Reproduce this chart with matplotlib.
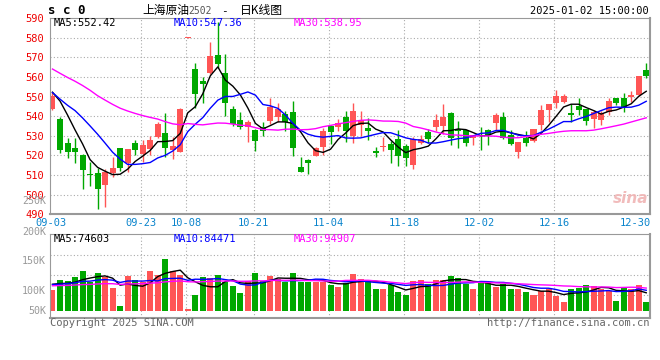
import numpy as np
import pandas as pd
import matplotlib
matplotlib.use("Agg")
import matplotlib.pyplot as plt
import matplotlib.transforms as mtransforms

# ---- data (sc0, 2024-09-03 .. 2025-01-02) ----
dates = ["09-03", "09-04", "09-05", "09-06", "09-09", "09-10", "09-11", "09-12", "09-13",
         "09-18", "09-19", "09-20", "09-23", "09-24", "09-25", "09-26", "09-27", "09-30",
         "10-08", "10-09", "10-10", "10-11", "10-14", "10-15", "10-16", "10-17", "10-18",
         "10-21", "10-22", "10-23", "10-24", "10-25", "10-28", "10-29", "10-30", "10-31",
         "11-01", "11-04", "11-05", "11-06", "11-07", "11-08", "11-11", "11-12", "11-13",
         "11-14", "11-15", "11-18", "11-19", "11-20", "11-21", "11-22", "11-25", "11-26",
         "11-27", "11-28", "11-29", "12-02", "12-03", "12-04", "12-05", "12-06", "12-09",
         "12-10", "12-11", "12-12", "12-13", "12-16", "12-17", "12-18", "12-19", "12-20",
         "12-23", "12-24", "12-25", "12-26", "12-27", "12-30", "12-31", "01-02"]

opens = [543.5, 538.6, 526.4, 523.8, 520.2, 510.4, 511.1, 505.1, 511.1, 523.6,
         516.3, 526.4, 520.6, 523.3, 529.4, 531.4, 522.8, 521.9, 580.0, 563.9,
         557.8, 561.8, 571.2, 561.8, 543.7, 538.1, 534.3, 533.1, 534.5, 537.7,
         539.4, 541.1, 542.0, 514.3, 517.8, 519.9, 524.5, 535.2, 534.7, 539.8,
         530.1, 535.5, 534.0, 522.4, 524.1, 525.8, 528.5, 525.0, 515.3, 526.5,
         532.1, 534.3, 535.2, 541.8, 533.5, 533.0, 528.9, 531.6, 533.1, 536.5,
         539.8, 530.4, 521.9, 529.1, 527.4, 535.5, 543.2, 546.9, 547.4, 541.8,
         545.4, 543.7, 538.4, 538.0, 542.3, 549.1, 549.1, 549.6, 550.8, 563.5]
highs = [552.2, 539.5, 528.7, 528.7, 520.6, 516.8, 513.4, 513.1, 519.0, 524.0,
         523.5, 527.9, 527.9, 529.9, 536.9, 541.5, 529.6, 544.0, 580.3, 566.9,
         560.1, 578.0, 587.8, 571.5, 545.4, 542.0, 538.1, 533.5, 537.2, 549.1,
         546.7, 542.8, 547.9, 519.4, 518.2, 524.5, 533.8, 535.7, 538.6, 542.8,
         546.9, 542.8, 538.9, 524.5, 529.2, 527.5, 533.0, 525.8, 529.6, 530.5,
         533.5, 541.1, 546.2, 542.3, 537.6, 533.0, 530.6, 534.7, 533.5, 541.8,
         542.3, 533.0, 527.0, 532.5, 533.5, 545.7, 546.0, 553.3, 551.1, 546.0,
         549.4, 543.7, 543.2, 542.6, 549.4, 549.1, 552.0, 552.8, 560.5, 566.9]
lows = [543.2, 521.1, 518.9, 516.0, 502.8, 504.6, 492.6, 493.6, 508.8, 511.9,
        511.7, 520.4, 516.8, 520.2, 528.8, 519.4, 518.2, 521.5, 580.0, 544.0,
        546.6, 561.3, 564.4, 540.3, 535.2, 533.5, 526.7, 522.1, 530.1, 536.0,
        536.9, 532.6, 519.9, 511.7, 510.5, 519.5, 520.4, 525.8, 532.6, 526.7,
        526.3, 530.1, 528.0, 519.0, 522.1, 516.0, 514.8, 514.8, 513.1, 526.0,
        526.2, 532.3, 530.9, 525.3, 524.0, 525.0, 525.3, 522.8, 525.5, 532.8,
        528.4, 525.5, 518.9, 524.8, 527.0, 533.1, 537.2, 544.3, 546.6, 537.2,
        540.6, 535.5, 533.8, 535.5, 540.6, 545.7, 542.3, 547.1, 550.3, 559.6]
closes = [550.3, 522.8, 521.6, 521.9, 512.8, 510.2, 503.1, 511.7, 513.4, 513.6,
          523.1, 522.8, 525.3, 527.9, 535.9, 523.6, 525.0, 543.7, 580.3, 551.5,
          556.6, 570.7, 566.4, 546.6, 536.0, 534.3, 537.2, 527.5, 532.6, 544.5,
          543.7, 536.9, 523.6, 511.7, 516.0, 523.8, 532.6, 531.8, 536.4, 532.3,
          542.8, 538.2, 532.6, 521.1, 524.8, 522.8, 519.9, 518.5, 528.5, 528.5,
          528.2, 538.2, 539.4, 529.1, 532.5, 526.5, 530.4, 531.2, 530.6, 540.7,
          529.1, 525.8, 527.0, 526.5, 533.5, 543.2, 546.0, 550.1, 550.5, 540.6,
          543.2, 537.6, 542.3, 541.5, 547.7, 546.6, 544.9, 550.8, 560.5, 560.5]
volumes = [85.7, 126.5, 122.4, 140.1, 163.2, 119.7, 155.0, 137.4, 93.8, 20.4,
           144.2, 126.5, 119.7, 163.2, 146.9, 212.2, 163.2, 146.9, 8.2, 65.3,
           138.7, 134.6, 146.9, 117.0, 102.0, 73.4, 122.4, 155.0, 122.4, 144.2,
           129.2, 117.0, 155.0, 119.7, 117.0, 117.0, 117.0, 107.4, 97.9, 112.9,
           151.0, 130.6, 122.4, 89.8, 89.8, 106.1, 77.5, 65.3, 122.4, 126.5,
           111.5, 126.5, 126.5, 142.8, 134.6, 110.2, 89.8, 114.2, 112.9, 97.9,
           110.2, 89.8, 89.8, 77.5, 65.3, 81.6, 89.8, 61.2, 36.7, 89.8,
           93.8, 106.1, 102.0, 89.8, 81.6, 40.8, 97.9, 89.8, 106.1, 36.7]  # thousand lots

# sessions before 09-03 (not drawn, they only feed the moving averages)
prev_closes = [588, 585, 580, 578, 583, 586, 579, 578.7,
               572, 566, 560, 558, 556, 561, 563, 559, 557, 562, 564, 564.5,
               556, 553, 549, 550, 551, 545.3, 557.1, 559.9, 548.4]
prev_volumes = [98, 105, 92, 110, 101, 96, 104, 99, 108, 95, 100, 103, 97, 106, 94,
                102, 99, 104, 98, 101, 107, 100, 104, 106, 110, 112, 118, 116, 114]

price_ticks = list(range(490, 600, 10))
label_idx = [0, 12, 18, 27, 37, 47, 57, 67, 77]
grid_idx = [12, 18, 27, 37, 47, 57, 67]
price_ma_text = ["MA5:552.42", "MA10:547.36", "MA30:538.95"]
vol_ma_text = ["MA5:74603", "MA10:84471", "MA30:94907"]
vol_labels = ["250K", "200K", "150K", "100K", "50K"]

# ---- styling ----
RED, GREEN = "#ff5555", "#00a800"
MA_COLORS = ["black", "#0000ff", "#ff00ff"]
GRID = "#aaaaaa"
FRAME = "#999999"
MONO = "DejaVu Sans Mono"
W, H = 660, 360

n = len(closes)
x = np.arange(n)
o, h, l, c = map(np.array, (opens, highs, lows, closes))
vol = np.array(volumes) * 1000
up = c >= o
cols = np.where(up, RED, GREEN)

all_close = pd.Series(prev_closes + closes)
all_vol = pd.Series(prev_volumes + volumes) * 1000
k = len(prev_closes)
price_ma = [all_close.rolling(p).mean().values[k:] for p in (5, 10, 30)]
vol_ma = [all_vol.rolling(p).mean().values[k:] for p in (5, 10, 30)]


def box(left, top, right, bottom):
    return [left / W, 1 - bottom / H, (right - left) / W, (bottom - top) / H]


fig = plt.figure(figsize=(6.6, 3.6), dpi=100)
ax = fig.add_axes(box(50, 18, 650, 214.3))
axv = fig.add_axes(box(50, 234, 650, 318))

xlim = (-0.33, n - 0.5)
dot = (0, (1, 2))

# price panel
ax.set_xlim(*xlim)
ax.set_ylim(490, 590)
for yv in price_ticks[1:-1]:
    ax.axhline(yv, color=GRID, lw=0.8, ls=dot, zorder=0)
for gi in grid_idx:
    ax.axvline(gi - 0.23, color=GRID, lw=0.8, ls=dot, zorder=0)

ax.vlines(x, l, h, colors=cols, lw=1, zorder=2)
body = np.maximum(np.abs(c - o), 0.45)
ax.bar(x, body, bottom=np.minimum(o, c), width=0.8, color=cols, zorder=2)
for ma, col in zip(price_ma, MA_COLORS):
    ax.plot(x, ma, color=col, lw=1, zorder=3)

ax.set_yticks(price_ticks)
ax.set_yticklabels([str(t) for t in price_ticks], color="#ee0000",
                   family=MONO, fontsize=7.5)
ax.set_xticks([i - 0.23 for i in label_idx])
ax.set_xticklabels([dates[i] for i in label_idx], color="#0a84cc",
                   family=MONO, fontsize=7.5)
ax.tick_params(length=0, pad=2.5)
ax.tick_params(axis="y", pad=4)
last = ax.get_xticklabels()[-1]
last.set_transform(last.get_transform() +
                   mtransforms.ScaledTranslation(5.5 / 100, 0, fig.dpi_scale_trans))
for s in ax.spines.values():
    s.set_color(FRAME)
ax.spines["bottom"].set_linewidth(1.5)
ax.spines["right"].set_linewidth(1.5)

# volume panel
axv.set_xlim(*xlim)
axv.set_ylim(-28.6e3, 314e3)
px = 314e3 / 77  # volume per pixel
for r in (20, 40, 60):
    axv.axhline(314e3 - r * px - 1 * px, color=GRID, lw=0.8, ls=dot, zorder=0)
for gi in grid_idx:
    axv.axvline(gi - 0.23, color=GRID, lw=0.8, ls=dot, zorder=0)
axv.bar(x, vol, width=0.8, color=cols, zorder=2)
for ma, col in zip(vol_ma, MA_COLORS):
    axv.plot(x, ma, color=col, lw=1, zorder=3)
axv.set_xticks([])
axv.set_yticks([])
for s in axv.spines.values():
    s.set_color(FRAME)
axv.spines["bottom"].set_linewidth(1.5)
axv.spines["right"].set_linewidth(1.5)


def ftext(px_x, px_y, s, **kw):
    kw.setdefault("family", MONO)
    kw.setdefault("fontsize", 7.5)
    kw.setdefault("va", "center")
    fig.text(px_x / W, 1 - px_y / H, s, **kw)


# header
ftext(48, 11, "s c 0", fontsize=9, weight="bold")
ftext(142, 10.5, "上海原油", family=["Noto Sans CJK SC", "DejaVu Sans"], fontsize=8.5)
ftext(188, 11.5, "2502", color="#555555", fontsize=7)
ftext(224, 11, "-", ha="center", fontsize=8)
ftext(240, 10.5, "日K线图", family=["Noto Sans CJK SC", "DejaVu Sans"], fontsize=8.5)
ftext(649, 11.5, "2025-01-02 15:00:00", ha="right")

# moving average legends
for xp, s, col in zip((54, 174, 294), price_ma_text, MA_COLORS):
    ftext(xp, 23, s, color=col)
for xp, s, col in zip((54, 174, 294), vol_ma_text, MA_COLORS):
    ftext(xp, 238.5, s, color=col)

# volume scale labels (sit where sina draws them)
for yp, s in zip((201, 231.5, 261, 291, 311), vol_labels):
    ftext(46, yp, s, ha="right", color="#999999", fontsize=7.2)

# watermark
ftext(648, 198, "sina", ha="right", fontsize=11, weight="bold", style="italic",
      family="DejaVu Sans", color="#f0b4b4", alpha=0.9)

# footer
ftext(50, 323, "Copyright 2025 SINA.COM", color="#666666")
ftext(649, 323, "http://finance.sina.com.cn", ha="right", color="#666666")

fig.savefig("out.png", dpi=100, facecolor="white")
